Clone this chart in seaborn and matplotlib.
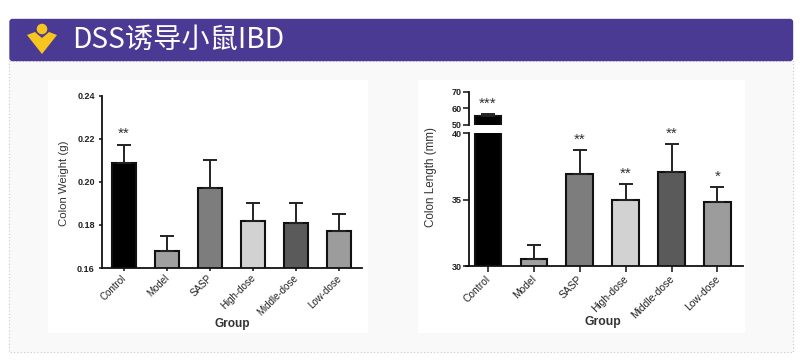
import matplotlib
matplotlib.use("Agg")
import matplotlib.pyplot as plt
from matplotlib.patches import Rectangle, FancyBboxPatch, Circle, Polygon
from matplotlib.transforms import ScaledTranslation
import seaborn as sns
import pandas as pd

sns.set_theme(style="white")
plt.rcParams['font.family'] = ['Liberation Sans', 'DejaVu Sans']

groups = ["Control", "Model", "SASP", "High-dose", "Middle-dose", "Low-dose"]
colors = ["#000000", "#a0a0a0", "#7d7d7d", "#d2d2d2", "#5a5a5a", "#9c9c9c"]
weight = [0.209, 0.168, 0.197, 0.182, 0.181, 0.177]
weight_top = [0.217, 0.175, 0.210, 0.190, 0.190, 0.185]
weight_stars = ["**", "", "", "", "", ""]
length = [55.6, 30.5, 36.9, 35.0, 37.1, 34.8]
length_top = [56.5, 31.55, 38.75, 36.15, 39.2, 35.95]
length_stars = ["***", "", "**", "**", "**", "*"]

W, H = 800, 363
fig = plt.figure(figsize=(W / 100, H / 100), dpi=100, facecolor="white")

def faxes(l, t, r, b, **kw):
    return fig.add_axes([l / W, 1 - b / H, (r - l) / W, (b - t) / H], **kw)

bg = faxes(0, 0, W, H)
bg.set_xlim(0, W); bg.set_ylim(H, 0); bg.axis("off")
bg.add_patch(Rectangle((9, 61), 784, 291, fc="#f9f9f9", ec="#c8c8c8", ls=(0, (1, 2)), lw=0.8))
bg.add_patch(Rectangle((48, 80), 320, 253, fc="white", ec="none"))
bg.add_patch(Rectangle((418, 80), 327, 253, fc="white", ec="none"))
bg.add_patch(FancyBboxPatch((10, 19.5), 782.5, 41, boxstyle="round,pad=0,rounding_size=2.5",
                            fc="#4b3a94", ec="#4b3a94", lw=1))
bg.add_patch(Polygon([(27, 35), (35, 32), (42, 38), (49, 32), (57, 35), (42, 54)],
                     closed=True, fc="#f6c51f", ec="none"))
bg.add_patch(Circle((42, 29), 6, fc="#f6c51f", ec="#4b3a94", lw=1))
bg.text(72.5, 40, "DSS诱导小鼠IBD", color="white", fontsize=20.3, va="center", ha="left",
        family=["Noto Sans CJK SC", "DejaVu Sans"])

LW = 1.5

def bars(ax, vals, tops, width):
    df = pd.DataFrame({"group": groups, "value": vals})
    sns.barplot(data=df, x="group", y="value", hue="group", order=groups, hue_order=groups,
                palette=colors, legend=False, ax=ax, width=width, saturation=1,
                edgecolor="#111111", linewidth=LW)
    for i, (v, t) in enumerate(zip(vals, tops)):
        ax.errorbar([i], [v], yerr=[[0], [t - v]], color="#222222", capsize=4.8,
                    capthick=1.4, elinewidth=1.4)

def style(ax, ticklen):
    ax.patch.set_alpha(0)
    sns.despine(ax=ax)
    for s in ax.spines.values():
        s.set_linewidth(1.3); s.set_color("#111111")
    ax.tick_params(length=ticklen, width=1.1, color="#111111", left=True, bottom=True, pad=1.5)
    ax.set_xlabel(""); ax.set_ylabel("")

def xlabels(ax, size):
    ax.set_xticks(range(6))
    ax.set_xticklabels(groups, rotation=45, ha="right", rotation_mode="anchor",
                       fontsize=size, color="#222222")
    shift = ScaledTranslation(-3 / 100, 0, fig.dpi_scale_trans)
    for lab in ax.get_xticklabels():
        lab.set_transform(lab.get_transform() + shift)

STAR = 11

# ---- left chart
a = faxes(102, 96, 362, 268)
bars(a, weight, weight_top, 0.57)
a.set_ylim(0.16, 0.24); a.set_xlim(-0.51, 5.53)
a.set_yticks([0.16, 0.18, 0.20, 0.22, 0.24])
a.set_yticklabels(["0.16", "0.18", "0.20", "0.22", "0.24"], fontsize=6.5, fontweight="bold", color="#222222")
style(a, 2.2)
a.tick_params(axis="y", pad=3)
xlabels(a, 7)
a.set_xlabel("Group", fontsize=8.6, fontweight="bold", color="#333333", labelpad=0)
a.text(-0.148, 0.49, "Colon Weight (g)", transform=a.transAxes, rotation=90, ha="center", va="center",
       fontsize=8.2, color="#333333")
for i, (t, s) in enumerate(zip(weight_top, weight_stars)):
    if s:
        a.text(i, t + 0.0053, s, ha="center", va="center", fontsize=STAR, color="#333333")

# ---- right chart: broken y axis
XL = (-0.414, 5.556)
lo = faxes(469, 133.3, 743, 266)
bars(lo, length, length_top, 0.58)
lo.set_ylim(30, 40); lo.set_xlim(*XL)
lo.set_yticks([30, 35, 40])
lo.set_yticklabels(["30", "35", "40"], fontsize=6.5, fontweight="bold", color="#222222")
style(lo, 4)
lo.spines["bottom"].set_bounds(-0.48, XL[1])
xlabels(lo, 7.4)
lo.set_xlabel("Group", fontsize=8.8, fontweight="bold", color="#333333", labelpad=-2)
lo.xaxis.set_label_coords(0.49, -0.378)
lo.text(-0.139, 0.67, "Colon Length (mm)", transform=lo.transAxes, rotation=90, ha="center", va="center",
        fontsize=8.4, color="#333333")
for i in range(1, 6):
    if length_stars[i]:
        lo.text(i, length_top[i] + 0.77, length_stars[i], ha="center", va="center", fontsize=STAR, color="#333333")

up = faxes(469, 91.7, 743, 125)
bars(up, length, length_top, 0.58)
up.set_ylim(50, 70); up.set_xlim(*XL)
up.set_yticks([50, 60, 70])
up.set_yticklabels(["50", "60", "70"], fontsize=6.5, fontweight="bold", color="#222222")
style(up, 4)
up.spines["bottom"].set_visible(False)
up.set_xticks([])
up.text(0, length_top[0] + 6.2, length_stars[0], ha="center", va="center", fontsize=STAR, color="#333333", clip_on=False)

fig.savefig("out.png", dpi=100)
